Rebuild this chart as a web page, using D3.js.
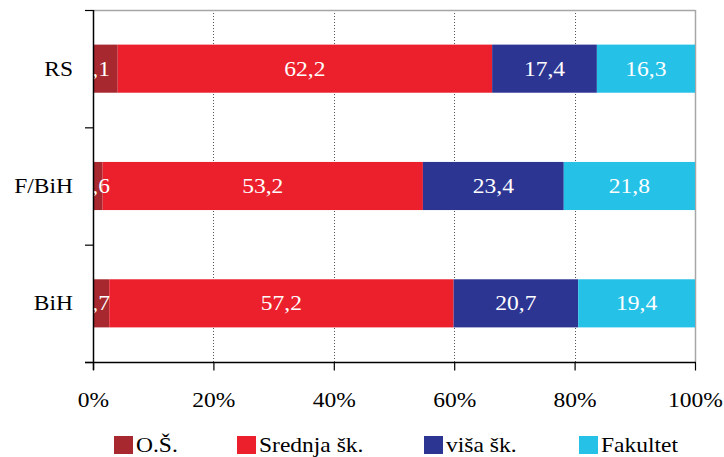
<!DOCTYPE html>
<html>
<head>
<meta charset="utf-8">
<script src="https://cdn.jsdelivr.net/npm/d3@7"></script>
<style>
  html, body { margin: 0; padding: 0; background: #fff; }
  svg text { font-family: "Liberation Serif", "Times New Roman", serif; }
</style>
</head>
<body>
<svg id="chart" width="724" height="457"></svg>
<script>
// Education structure (%) by entity
const categories = ["RS", "F/BiH", "BiH"];
const seriesNames = ["O.Š.", "Srednja šk.", "viša šk.", "Fakultet"];
const osValues = [4.1, 1.6, 2.7];
const srednjaValues = [62.2, 53.2, 57.2];
const visaValues = [17.4, 23.4, 20.7];
const fakultetValues = [16.3, 21.8, 19.4];
const xTicks = [0, 20, 40, 60, 80, 100];
const colors = ["#A7282F", "#EC1F2D", "#2D3593", "#25C1E7"];

const seriesValues = [osValues, srednjaValues, visaValues, fakultetValues];
const rows = categories.map((c, i) => {
  const r = { cat: c };
  seriesNames.forEach((s, j) => r[s] = seriesValues[j][i]);
  return r;
});

const svg = d3.select("#chart");
const plotLeft = 93, plotRight = 695, plotTop = 10, plotBottom = 362;
const SX = 1.12; // horizontal stretch of the serif type
const fontSize = 21;

const x = d3.scaleLinear().domain([0, 100]).range([plotLeft, plotRight]);
const y = d3.scaleBand().domain(categories).range([plotTop, plotBottom]).padding(0);
const barH = y.bandwidth() * 0.41;

const fmt = v => d3.format(".1f")(v).replace(".", ",");

function stretchedText(g, tx, ty, str, anchor, fill) {
  return g.append("text")
    .attr("transform", `translate(${tx},${ty}) scale(${SX},1)`)
    .attr("text-anchor", anchor)
    .attr("font-size", fontSize)
    .attr("fill", fill)
    .text(str);
}

// gridlines (dotted)
svg.append("g").selectAll("line")
  .data(xTicks.filter(t => t > 0 && t < 100))
  .join("line")
  .attr("x1", d => Math.round(x(d)) + 0.5).attr("x2", d => Math.round(x(d)) + 0.5)
  .attr("y1", plotTop).attr("y2", plotBottom)
  .attr("stroke", "#555").attr("stroke-width", 1).attr("stroke-dasharray", "1,2");

// frame top and right
svg.append("line").attr("x1", plotLeft).attr("x2", plotRight + 0.5).attr("y1", plotTop + 0.5).attr("y2", plotTop + 0.5)
  .attr("stroke", "#a6a6a6").attr("stroke-width", 1.5);
svg.append("line").attr("x1", plotRight + 0.5).attr("x2", plotRight + 0.5).attr("y1", plotTop).attr("y2", plotBottom)
  .attr("stroke", "#a6a6a6").attr("stroke-width", 1.5);

// stacked bars
const stack = d3.stack().keys(seriesNames)(rows);
const barG = svg.append("g");
stack.forEach((layer, j) => {
  barG.append("g").attr("fill", colors[j])
    .selectAll("rect").data(layer).join("rect")
    .attr("x", d => x(d[0]))
    .attr("width", d => x(d[1]) - x(d[0]))
    .attr("y", d => y(d.data.cat) + (y.bandwidth() - barH) / 2)
    .attr("height", barH);
});

// value labels
const labelG = svg.append("g");
stack.forEach((layer, j) => {
  layer.forEach(d => {
    const cy = y(d.data.cat) + y.bandwidth() / 2 + 7;
    if (j === 0) {
      stretchedText(labelG, x(0) + 17, cy, fmt(d[1] - d[0]), "end", "#fff");
    } else {
      stretchedText(labelG, (x(d[0]) + x(d[1])) / 2, cy, fmt(d[1] - d[0]), "middle", "#fff");
    }
  });
});

// x axis
const xAxis = svg.append("g")
  .attr("transform", `translate(0,${plotBottom + 0.5})`)
  .call(d3.axisBottom(x).tickValues(xTicks).tickSize(8).tickSizeOuter(0).tickFormat(d => d + "%"));
xAxis.select(".domain").attr("stroke", "#000").attr("stroke-width", 1.5)
  .attr("d", `M${plotLeft - 8},0H${plotRight + 1}`);
xAxis.selectAll(".tick line").attr("stroke", "#000").attr("stroke-width", 1.2);
xAxis.selectAll(".tick text")
  .attr("y", 0).attr("dy", 0)
  .attr("transform", `translate(0,44) scale(${SX},1)`)
  .attr("font-size", fontSize).attr("font-family", "Liberation Serif, serif").attr("fill", "#000");

// y axis: line with ticks at category boundaries
const yAxis = svg.append("g");
yAxis.append("line").attr("x1", plotLeft + 0.5).attr("x2", plotLeft + 0.5).attr("y1", plotTop).attr("y2", plotBottom + 8)
  .attr("stroke", "#000").attr("stroke-width", 1.5);
const bounds = categories.map(c => y(c)).concat([y(categories[categories.length - 1]) + y.bandwidth()]);
yAxis.selectAll("line.tk").data(bounds).join("line").attr("class", "tk")
  .attr("x1", plotLeft - 8).attr("x2", plotLeft)
  .attr("y1", d => d + 0.5).attr("y2", d => d + 0.5)
  .attr("stroke", "#000").attr("stroke-width", 1.2);
categories.forEach(c => {
  stretchedText(yAxis, 73, y(c) + y.bandwidth() / 2 + 7, c, "end", "#000");
});

// legend
const legendX = [114, 237, 424, 579];
const legendG = svg.append("g");
seriesNames.forEach((s, j) => {
  legendG.append("rect").attr("x", legendX[j]).attr("y", 436).attr("width", 19).attr("height", 18)
    .attr("fill", colors[j]);
  stretchedText(legendG, legendX[j] + 22, 452, s, "start", "#000");
});
</script>
</body>
</html>
